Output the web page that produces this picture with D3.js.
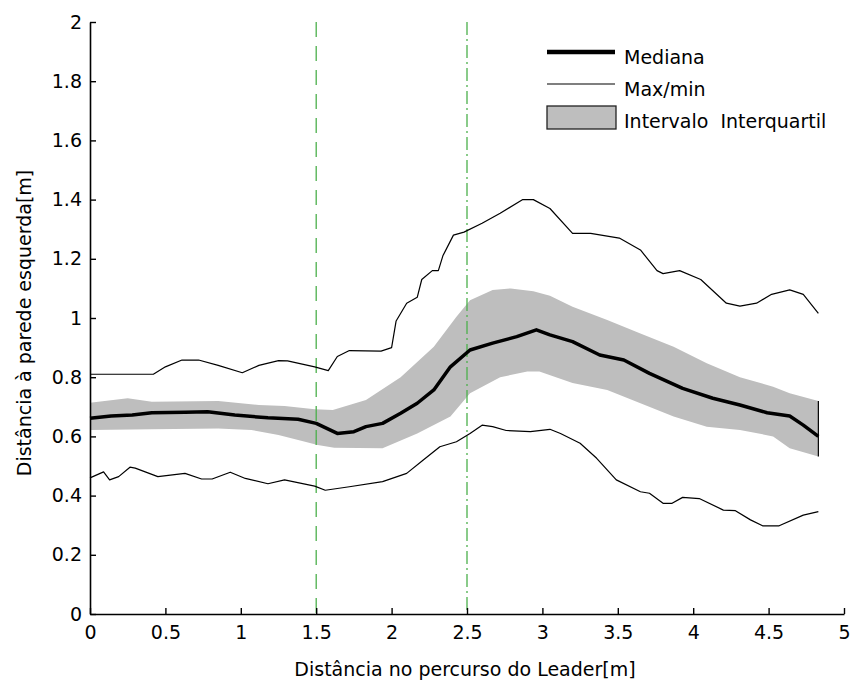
<!DOCTYPE html>
<html>
<head>
<meta charset="utf-8">
<script src="https://cdn.jsdelivr.net/npm/d3@7"></script>
<style>
  html, body { margin: 0; padding: 0; background: #fff; }
  svg { display: block; }
  text { font-family: "DejaVu Sans", sans-serif; fill: #000; }
</style>
</head>
<body>
<svg id="chart" width="853" height="680"></svg>
<script>
// Distance to the left wall along the leader's path: [path distance (m), wall distance (m)]
const maxLine = [[0,0.81],[0.42,0.81],[0.5,0.835],[0.61,0.858],[0.72,0.858],[0.85,0.84],[1.01,0.815],[1.12,0.84],[1.25,0.856],[1.31,0.855],[1.49,0.835],[1.58,0.822],[1.64,0.87],[1.72,0.89],[1.93,0.888],[2.0,0.9],[2.03,0.99],[2.1,1.05],[2.17,1.07],[2.2,1.13],[2.27,1.16],[2.31,1.16],[2.34,1.21],[2.41,1.28],[2.48,1.29],[2.6,1.32],[2.72,1.354],[2.87,1.4],[2.94,1.4],[3.05,1.37],[3.2,1.286],[3.32,1.286],[3.51,1.27],[3.65,1.23],[3.76,1.16],[3.8,1.15],[3.91,1.16],[4.05,1.13],[4.22,1.05],[4.31,1.04],[4.42,1.05],[4.52,1.08],[4.64,1.095],[4.73,1.08],[4.83,1.016]];

const minLine = [[0,0.46],[0.09,0.48],[0.13,0.453],[0.19,0.464],[0.265,0.496],[0.3,0.493],[0.45,0.464],[0.63,0.475],[0.74,0.456],[0.81,0.456],[0.93,0.479],[1.03,0.458],[1.18,0.44],[1.29,0.453],[1.49,0.432],[1.56,0.418],[1.72,0.43],[1.94,0.447],[2.1,0.475],[2.21,0.52],[2.32,0.565],[2.43,0.582],[2.52,0.61],[2.6,0.638],[2.67,0.633],[2.76,0.62],[2.92,0.616],[3.05,0.624],[3.12,0.61],[3.25,0.577],[3.36,0.526],[3.49,0.453],[3.65,0.413],[3.71,0.408],[3.8,0.374],[3.86,0.374],[3.93,0.394],[4.04,0.39],[4.2,0.351],[4.28,0.349],[4.38,0.318],[4.46,0.298],[4.57,0.298],[4.73,0.334],[4.83,0.346]];

const medianLine = [[0,0.661],[0.14,0.669],[0.28,0.672],[0.41,0.68],[0.63,0.682],[0.78,0.683],[0.96,0.672],[1.18,0.663],[1.38,0.658],[1.5,0.644],[1.64,0.61],[1.75,0.616],[1.83,0.633],[1.94,0.644],[2.06,0.678],[2.17,0.712],[2.28,0.757],[2.39,0.835],[2.52,0.892],[2.67,0.915],[2.83,0.937],[2.96,0.96],[3.05,0.943],[3.2,0.92],[3.38,0.875],[3.54,0.858],[3.71,0.813],[3.93,0.762],[4.13,0.729],[4.31,0.706],[4.49,0.68],[4.64,0.669],[4.73,0.638],[4.83,0.6]];

const upperQuartile = [[0,0.714],[0.25,0.729],[0.41,0.717],[0.85,0.72],[1.12,0.706],[1.29,0.703],[1.49,0.692],[1.61,0.689],[1.83,0.723],[2.06,0.8],[2.28,0.903],[2.43,1.004],[2.52,1.06],[2.67,1.095],[2.79,1.1],[2.94,1.09],[3.05,1.075],[3.2,1.038],[3.43,0.993],[3.65,0.948],[3.87,0.903],[4.09,0.847],[4.31,0.8],[4.53,0.768],[4.64,0.746],[4.83,0.72]];

const lowerQuartile = [[0,0.622],[0.41,0.624],[0.85,0.627],[1.07,0.622],[1.25,0.605],[1.4,0.585],[1.51,0.571],[1.62,0.562],[1.94,0.56],[2.17,0.61],[2.39,0.667],[2.52,0.746],[2.72,0.8],[2.9,0.819],[2.98,0.819],[3.2,0.78],[3.43,0.757],[3.65,0.712],[3.87,0.667],[4.09,0.633],[4.31,0.622],[4.53,0.6],[4.64,0.56],[4.83,0.532]];

// Section boundaries along the path
const sectionMarks = [1.5, 2.5];

const xTicks = [0, 0.5, 1, 1.5, 2, 2.5, 3, 3.5, 4, 4.5, 5];
const xTickLabels = ["0", "0.5", "1", "1.5", "2", "2.5", "3", "3.5", "4", "4.5", "5"];
const yTicks = [0, 0.2, 0.4, 0.6, 0.8, 1, 1.2, 1.4, 1.6, 1.8, 2];
const yTickLabels = ["0", "0.2", "0.4", "0.6", "0.8", "1", "1.2", "1.4", "1.6", "1.8", "2"];

const legendLabels = ["Mediana", "Max/min", "Intervalo  Interquartil"];

const plot = { left: 90, right: 844, top: 22, bottom: 614 };
const fontSize = 19;

const svg = d3.select("#chart");
const x = d3.scaleLinear().domain([0, 5]).range([plot.left, plot.right]);
const y = d3.scaleLinear().domain([0, 2]).range([plot.bottom, plot.top]);

const line = d3.line().x(d => x(d[0])).y(d => y(d[1]));

// Interquartile band: upper edge forward, lower edge back
const bandPts = upperQuartile.concat(lowerQuartile.slice().reverse());
svg.append("path")
  .attr("d", line(bandPts) + "Z")
  .attr("fill", "#bebebe")
  .attr("stroke", "none");

// Closing edge of the band at the last sample
const lastU = upperQuartile[upperQuartile.length - 1];
const lastL = lowerQuartile[lowerQuartile.length - 1];
svg.append("path")
  .attr("d", line([lastU, [lastU[0], lastL[1]]]))
  .attr("stroke", "#000").attr("stroke-width", 1.2).attr("fill", "none");

// Vertical section markers
sectionMarks.forEach((m, i) => {
  svg.append("line")
    .attr("x1", x(m)).attr("x2", x(m))
    .attr("y1", y(2)).attr("y2", y(0))
    .attr("stroke", "#4cb04c")
    .attr("stroke-width", 1.3)
    .attr("stroke-dasharray", i === 0 ? "15,9" : "13,4,2,4");
});

// Max / min envelope
[maxLine, minLine].forEach(s => {
  svg.append("path")
    .attr("d", line(s))
    .attr("fill", "none")
    .attr("stroke", "#000")
    .attr("stroke-width", 1.2)
    .attr("stroke-linejoin", "round");
});

// Median
svg.append("path")
  .attr("d", line(medianLine))
  .attr("fill", "none")
  .attr("stroke", "#000")
  .attr("stroke-width", 3.5)
  .attr("stroke-linejoin", "round");

// Axes (ticks point inward)
const xAxis = d3.axisBottom(x)
  .tickValues(xTicks)
  .tickFormat((d, i) => xTickLabels[i])
  .tickSizeInner(-6).tickSizeOuter(0).tickPadding(14);
const yAxis = d3.axisLeft(y)
  .tickValues(yTicks)
  .tickFormat((d, i) => yTickLabels[i])
  .tickSizeInner(-6).tickSizeOuter(0).tickPadding(14);

const gx = svg.append("g").attr("transform", `translate(0,${plot.bottom})`).call(xAxis);
const gy = svg.append("g").attr("transform", `translate(${plot.left},0)`).call(yAxis);
[gx, gy].forEach(g => {
  g.select(".domain").attr("stroke", "#000").attr("stroke-width", 1.6);
  g.selectAll(".tick line").attr("stroke", "#000").attr("stroke-width", 1.4);
  g.selectAll(".tick text").attr("font-family", "DejaVu Sans, sans-serif").attr("font-size", fontSize).attr("fill", "#000");
});
gx.selectAll(".tick text").attr("dy", "0.71em").attr("y", 12);
gy.selectAll(".tick text").attr("x", -8);

// Axis titles
svg.append("text")
  .attr("x", (plot.left + plot.right) / 2 - 2)
  .attr("y", 676)
  .attr("text-anchor", "middle")
  .attr("font-size", fontSize)
  .text("Distância no percurso do Leader[m]");

svg.append("text")
  .attr("transform", `translate(31,${(plot.top + plot.bottom) / 2 + 5}) rotate(-90)`)
  .attr("text-anchor", "middle")
  .attr("font-size", fontSize)
  .text("Distância à parede esquerda[m]");

// Legend
const lg = svg.append("g");
const lx0 = 547, lx1 = 615, tx = 624;
lg.append("line").attr("x1", lx0).attr("x2", lx1).attr("y1", 52).attr("y2", 52)
  .attr("stroke", "#000").attr("stroke-width", 4.5);
lg.append("text").attr("x", tx).attr("y", 64).attr("font-size", fontSize).text(legendLabels[0]);

lg.append("line").attr("x1", lx0).attr("x2", lx1).attr("y1", 84).attr("y2", 84)
  .attr("stroke", "#000").attr("stroke-width", 1.2);
lg.append("text").attr("x", tx).attr("y", 96).attr("font-size", fontSize).text(legendLabels[1]);

lg.append("rect").attr("x", lx0).attr("y", 106).attr("width", lx1 - lx0 + 1).attr("height", 23)
  .attr("fill", "#bebebe").attr("stroke", "#222").attr("stroke-width", 1.3);
lg.append("text").attr("x", tx).attr("y", 128).attr("font-size", fontSize)
  .attr("xml:space", "preserve").style("white-space", "pre").text(legendLabels[2]);
</script>
</body>
</html>
